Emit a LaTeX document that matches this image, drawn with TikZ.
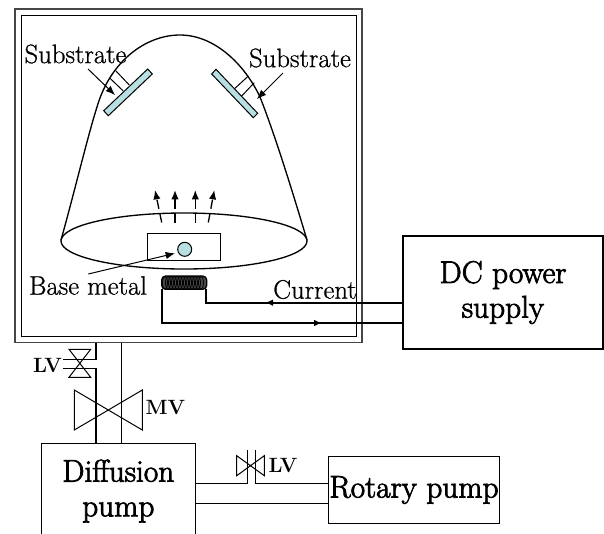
\documentclass[tikz,border=0pt]{standalone}
\usepackage{fontspec}
\usetikzlibrary{arrows.meta}
\newfontfamily\heavyface[FakeBold=2.5]{Latin Modern Roman}
\newfontfamily\darkface[FakeBold=0.8]{Latin Modern Roman}
\definecolor{paleblue}{rgb}{0.72,0.88,0.89}
\tikzset{every picture/.style={line width=0.75pt}}
\tikzset{lbl/.style={inner sep=0.75pt,font=\fontsize{20}{24}\selectfont\darkface},
  biglbl/.style={inner sep=0.75pt,align=center,font=\fontsize{23.5}{26}\selectfont\heavyface},
  tag/.style={inner sep=0.75pt,font=\fontsize{15.5}{18}\selectfont\bfseries},
  pumpbox/.style={draw,line width=1pt},
  wire/.style={line width=1.5pt},
  pipe/.style={line width=1pt},
  tipped/.style={-{Latex[length=7pt,width=5.5pt]}},
  smalltip/.style={-{Latex[length=6pt,width=5pt]},line width=1.2pt}}

\begin{document}
\begin{tikzpicture}[x=0.75pt,y=0.75pt,yscale=-1,xscale=1]
\useasboundingbox (0,0) rectangle (604,533);

%Chamber walls
\draw [color={rgb, 255:red, 70; green, 70; blue, 70 }, line width=1pt] (15,9) rectangle (362,342.5);
\draw (21,15) rectangle (356,336);

%Bell jar
\draw [line width=1pt] (61,240) .. controls (75,190) and (88,135) .. (97,107) .. controls (110,62) and (145,35) .. (180,35) .. controls (215,35) and (245,65) .. (260,97) .. controls (275,135) and (292,190) .. (307,240);
\draw [line width=1pt] (184,241) ellipse (123 and 28);

%Substrate holders
\draw (115.7,70.7) -- (129.3,85);
\draw (110,78.3) -- (123.3,91);
\draw (248.3,76) -- (235,88.3);
\draw (254.3,82.7) -- (241.7,96);
%Substrates
\draw [fill=paleblue] (147.7,69) -- (152.3,74) -- (108.3,115.7) -- (103.7,110.7) -- cycle;
\draw [fill=paleblue] (216,69.3) -- (211.7,74) -- (253.3,117.7) -- (257.7,113.3) -- cycle;

%Vapour arrows
\foreach \xa/\xb in {161.7/155,175/175,195.3/195.3,208.3/214.3}
  \draw [tipped, dash pattern=on 7pt off 3.5pt, line width=1pt] (\xa,222.5) -- (\xb,190);

%Boat and base metal
\draw (147,233.3) rectangle (220.7,260);
\draw (184.7,249.3) node (metal) [circle, draw, fill=paleblue, minimum size=10.5pt, inner sep=0pt] {};

%Coil
\draw [fill=black!70, line width=1pt, rounded corners=3pt] (161.7,276) rectangle (206.7,289.3);
\foreach \xc in {165,168,...,202}
  \draw [line width=0.6pt] (\xc,282.7) ellipse (2.5 and 6.5);
\coordinate (coilr) at (205.7,289);
\coordinate (coill) at (161.7,289);

% Text Node
\draw (88,69) coordinate (subla) (115,95) coordinate (sublb);
\draw (283,73) coordinate (subra) (257,99) coordinate (subrb);
\draw (75.5,54) node (subl) [lbl] {Substrate};
\draw (300,58) node (subr) [lbl] {Substrate};
\draw (88,285.5) node (basemetal) [lbl] {Base metal};
\draw (315,289.5) node (current) [lbl] {Current};
\draw (subla) [tipped] -- (sublb);
\draw (subra) [tipped] -- (subrb);
\draw (88.3,274) coordinate (baseb) [tipped] -- (175,253.3);

%Power supply
\draw (503,292.5) node (dcsupply) [pumpbox, minimum width=150pt, minimum height=84.75pt, biglbl] {DC power\\supply};
\coordinate (wirea) at (265,302.7);
\coordinate (wireb) at (322,323);
\draw [wire] (dcsupply.west |- wirea) -- (coilr |- wirea) -- (coilr);
\draw [wire] (coill) -- (coill |- wireb) -- (dcsupply.west |- wireb);
\draw [smalltip] ([xshift=9pt]wirea) -- (wirea);
\draw [smalltip] ([xshift=-9pt]wireb) -- (wireb);

%Pumps
\draw (118.3,491) node (diffpump) [pumpbox, minimum width=115.5pt, minimum height=71.5pt, biglbl] {Diffusion\\pump};
\draw (414,490) node (rotpump) [pumpbox, minimum width=127.5pt, minimum height=50pt, biglbl] {Rotary pump};

%Pipes to chamber
\draw [pipe] (121.7,342.5) -- (121.7,443.3);
\draw [pipe] (96,342.5) -- (96,359.3) -- (62.7,359.3);
\draw [pipe] (62.7,368.3) -- (96,368.3) -- (96,443.3);

%Pipes between pumps
\draw [pipe] (diffpump.east |- 0,483.3) -- (247.3,483.3) -- (247.3,450);
\draw [pipe] (255.3,450) -- (255.3,483.3) -- (rotpump.west |- 0,483.3);
\draw [pipe] (diffpump.east |- 0,503.3) -- (rotpump.west |- 0,503.3);

%Valves
\draw (69,349.3) -- (90.7,377.3) -- (69,377.3) -- (90.7,349.3) -- cycle;
\draw (74.3,390) -- (142.3,430) -- (142.3,390) -- (74.3,430) -- cycle;
\draw (236.7,455.7) -- (264.3,475.7) -- (264.3,455.7) -- (236.7,475.7) -- cycle;

% Text Node
\draw (47.5,365.5) node (lvleft) [tag] {LV};
\draw (165.5,407.5) node (mv) [tag] {MV};
\draw (283,465) node (lvright) [tag] {LV};

\end{tikzpicture}
\end{document}
